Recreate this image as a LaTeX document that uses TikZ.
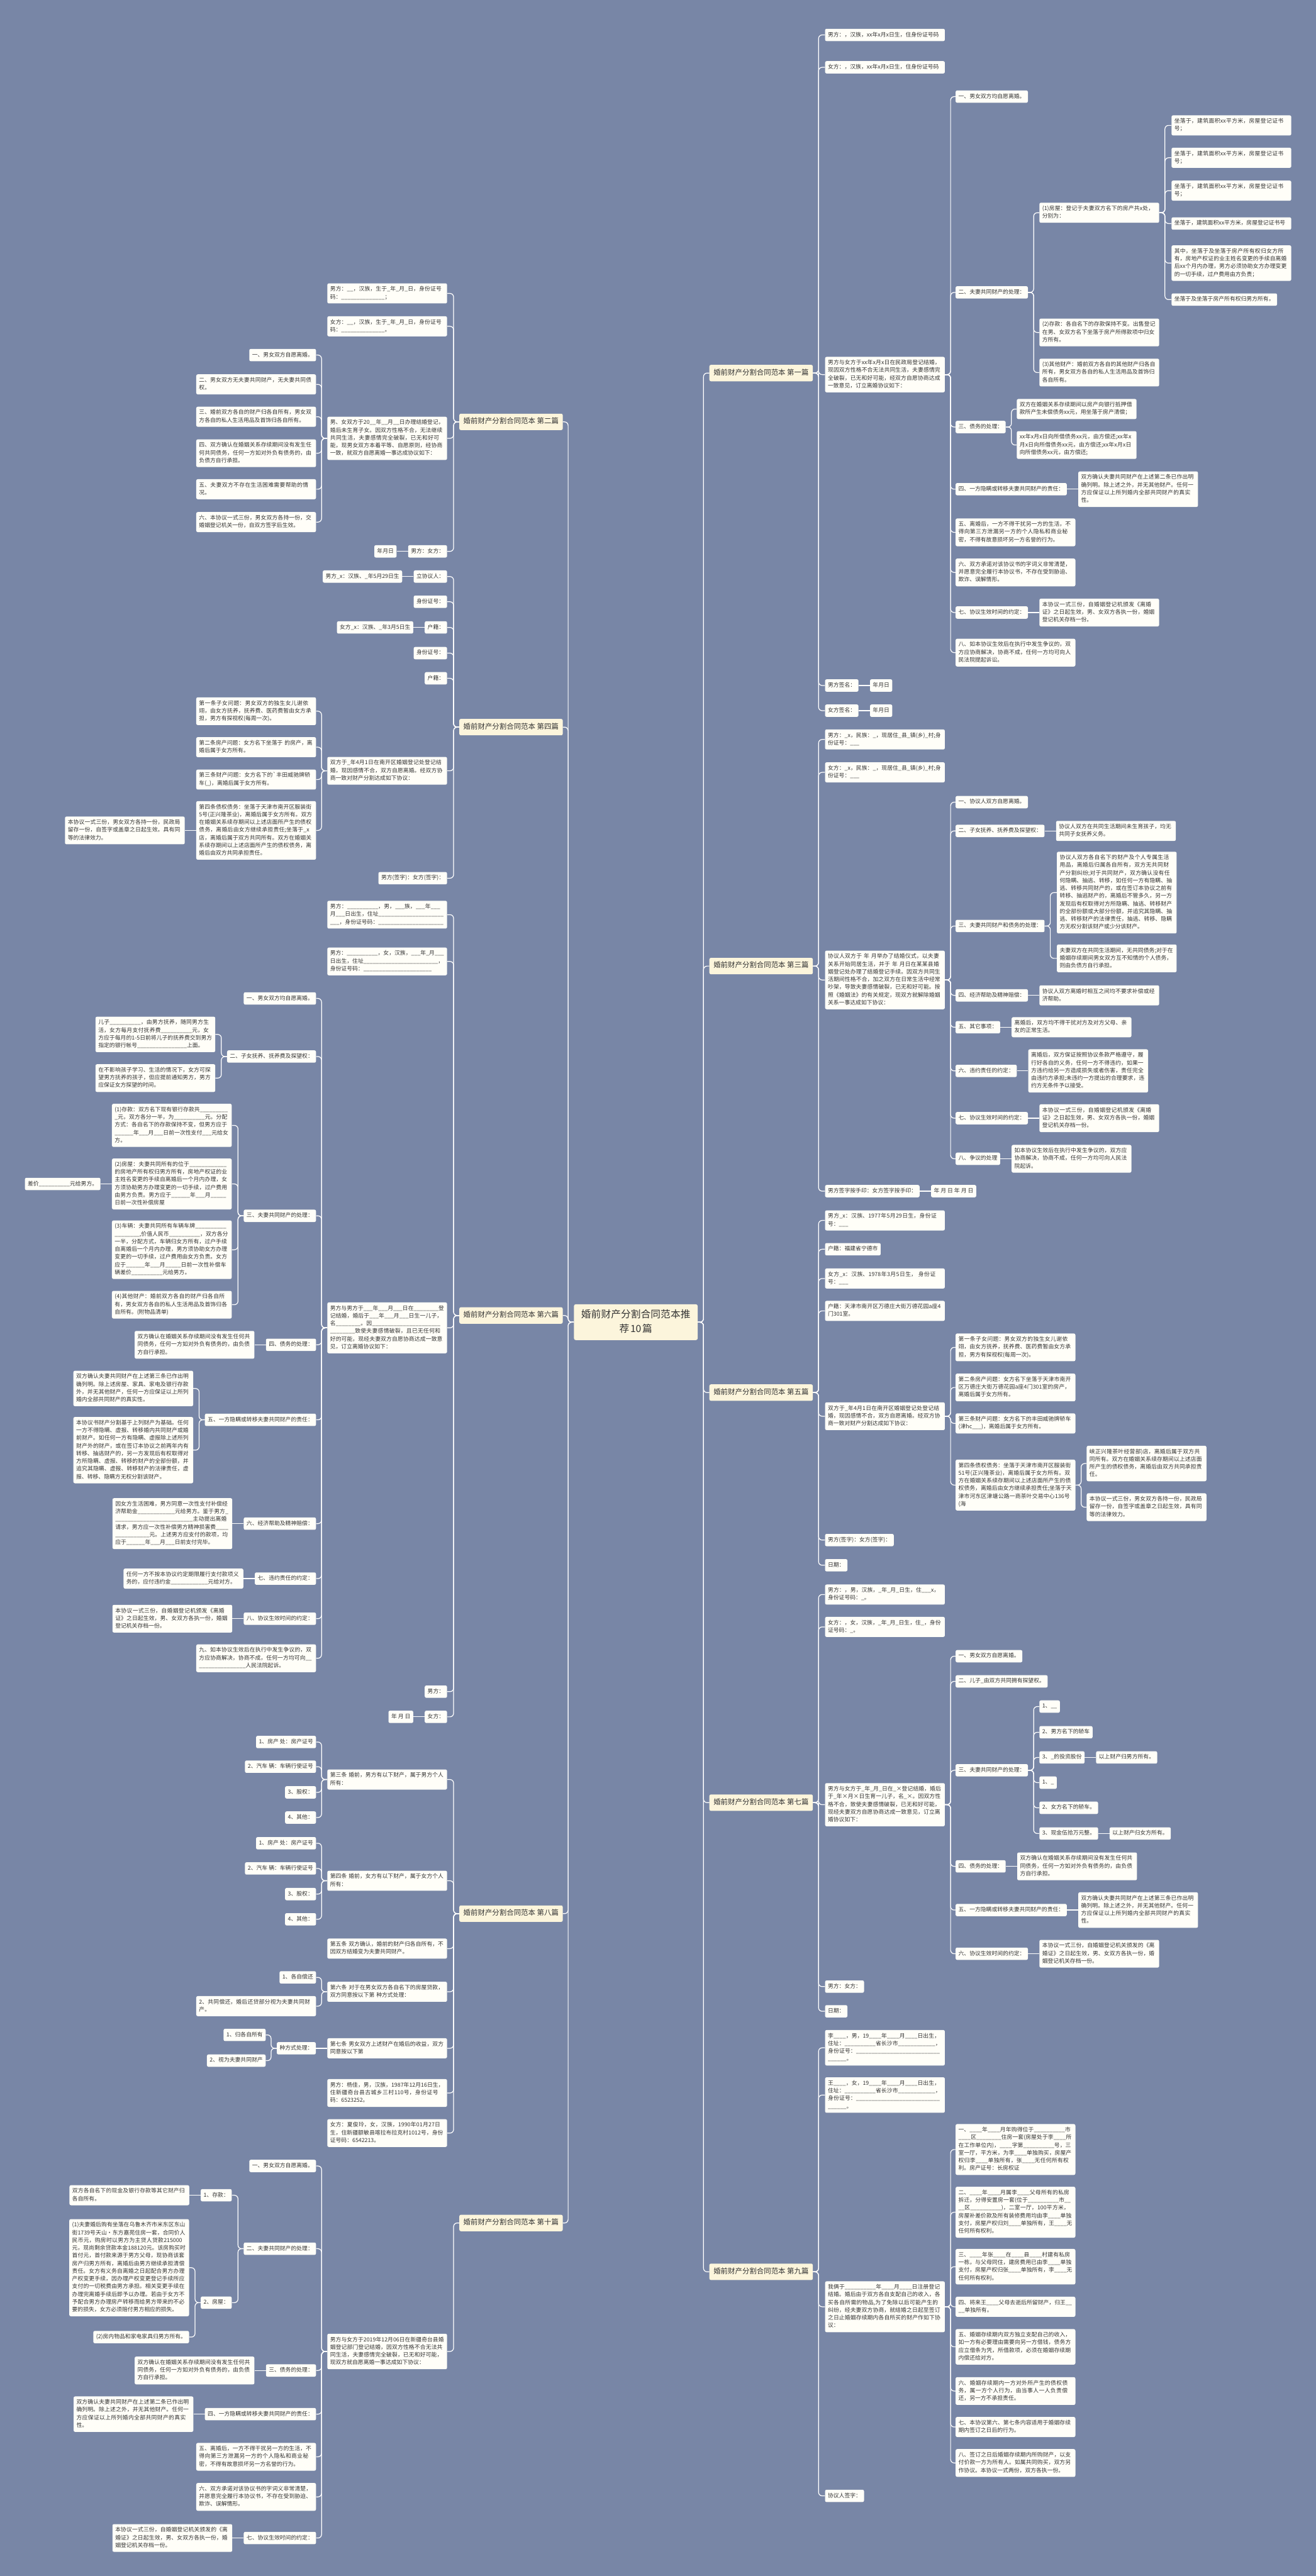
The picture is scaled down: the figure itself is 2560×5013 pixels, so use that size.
\documentclass[tikz,border=0pt]{standalone}
\usepackage{fontspec}
\newfontfamily\cjk{Noto Sans CJK SC}
\usepackage{tikz}
\usetikzlibrary{positioning}
\XeTeXlinebreaklocale "zh"
\XeTeXlinebreakskip = 0pt plus 1pt
\setlength{\parindent}{0pt}
\definecolor{bgcol}{HTML}{7886A6}
\definecolor{cardcol}{HTML}{FFFEF8}
\definecolor{tagcol}{HTML}{FCF5DC}
\definecolor{inkcol}{HTML}{333333}
\newcommand{\leaffont}{\cjk\fontsize{10.8}{15}\selectfont}
\newcommand{\branchfont}{\cjk\fontsize{14}{17}\selectfont}
\newcommand{\hubfont}{\cjk\fontsize{19.2}{28}\selectfont}
\tikzset{
  card/.style={fill=cardcol, text=inkcol, rounded corners=3pt, inner xsep=5.5pt, inner ysep=4.5pt,
    font=\leaffont, align=left, execute at begin node=\strut, execute at end node=\strut},
  wide/.style={card, text width=222pt},
  tag/.style={fill=tagcol, text=inkcol, rounded corners=3pt, inner xsep=8pt, inner ysep=8.5pt,
    font=\branchfont, text height=11pt, text depth=4pt},
  hub/.style={fill=tagcol, text=inkcol, rounded corners=4pt, inner xsep=9.5pt, inner ysep=7pt,
    font=\hubfont, text width=222pt, align=center, execute at begin node=\strut, execute at end node=\strut},
  link/.style={draw=white, line width=1.5pt, rounded corners=7pt},
  elbr/.style={to path={-- ++(11pt,0pt) |- (\tikztotarget)}},
  elbl/.style={to path={-- ++(-11pt,0pt) |- (\tikztotarget)}}
}
\begin{document}
\catcode`\_=\active
\def_{\char95\penalty0\relax}
\begin{tikzpicture}[x=1pt,y=-1pt]
\useasboundingbox (0,0) rectangle (2560,5013);
\fill [bgcol] (0,0) rectangle (2560,5013);

\node [hub] (root) at (1237,2573) {婚前财产分割合同范本推\\荐10篇};
\node [tag, anchor=west] (s1) at (1380,726) {婚前财产分割合同范本 第一篇};
\node [tag, anchor=west] (s3) at (1380,1880) {婚前财产分割合同范本 第三篇};
\node [tag, anchor=west] (s5) at (1380,2710) {婚前财产分割合同范本 第五篇};
\node [tag, anchor=west] (s7) at (1380,3508) {婚前财产分割合同范本 第七篇};
\node [tag, anchor=west] (s9) at (1380,4421) {婚前财产分割合同范本 第九篇};
\node [tag, anchor=east] (s2) at (1095,821) {婚前财产分割合同范本 第二篇};
\node [tag, anchor=east] (s4) at (1095,1415) {婚前财产分割合同范本 第四篇};
\node [tag, anchor=east] (s6) at (1095,2560) {婚前财产分割合同范本 第六篇};
\node [tag, anchor=east] (s8) at (1095,3724) {婚前财产分割合同范本 第八篇};
\node [tag, anchor=east] (s10) at (1095,4326) {婚前财产分割合同范本 第十篇};
\draw [link] (root.east) to [elbr] (s1.west);
\draw [link] (root.east) to [elbr] (s3.west);
\draw [link] (root.east) to [elbr] (s5.west);
\draw [link] (root.east) to [elbr] (s7.west);
\draw [link] (root.east) to [elbr] (s9.west);
\draw [link] (root.west) to [elbl] (s2.east);
\draw [link] (root.west) to [elbl] (s4.east);
\draw [link] (root.west) to [elbl] (s6.east);
\draw [link] (root.west) to [elbl] (s8.east);
\draw [link] (root.west) to [elbl] (s10.east);

\node [wide, anchor=west] (s1-1) at (1605,68) {男方：，汉族，xx年x月x日生，住身份证号码};
\node [wide, anchor=west] (s1-2) at (1605,131) {女方：，汉族，xx年x月x日生，住身份证号码};
\node [wide, anchor=west] (s1-3) at (1605,729) {男方与女方于xx年x月x日在民政局登记结婚，现因双方性格不合无法共同生活，夫妻感情完全破裂，已无和好可能，经双方自愿协商达成一致意见，订立离婚协议如下：};
\node [card, anchor=west] (s1-4) at (1605,1334) {男方签名：};
\node [card, right=22pt of s1-4] (s1-4-1) {年月日};
\node [card, anchor=west] (s1-5) at (1605,1383) {女方签名：};
\node [card, right=22pt of s1-5] (s1-5-1) {年月日};
\node [card, anchor=west] (s1-3-1) at (1859,188) {一、男女双方均自愿离婚。};
\node [card, anchor=west] (s1-3-2) at (1859,569) {二、夫妻共同财产的处理：};
\node [card, anchor=west] (s1-3-3) at (1859,831) {三、债务的处理：};
\node [card, anchor=west] (s1-3-4) at (1859,952) {四、一方隐瞒或转移夫妻共同财产的责任：};
\node [wide, anchor=west] (s1-3-5) at (1859,1036) {五、离婚后，一方不得干扰另一方的生活，不得向第三方泄漏另一方的个人隐私和商业秘密，不得有故意损坏另一方名誉的行为。};
\node [wide, anchor=west] (s1-3-6) at (1859,1114) {六、双方承诺对该协议书的字词义非常清楚，并愿意完全履行本协议书，不存在受到胁迫、欺诈、误解情形。};
\node [card, anchor=west] (s1-3-7) at (1859,1192) {七、协议生效时间的约定：};
\node [wide, anchor=west] (s1-3-8) at (1859,1270) {八、如本协议生效后在执行中发生争议的，双方应协商解决，协商不成，任何一方均可向人民法院提起诉讼。};
\node [wide, anchor=west] (s1-3-2-1) at (2022,414) {(1)房屋：登记于夫妻双方名下的房产共x处，分别为：};
\node [wide, anchor=west] (s1-3-2-2) at (2022,647) {(2)存款：各自名下的存款保持不变。出售登记在男、女双方名下坐落于房产所得款项中归女方所有。};
\node [wide, anchor=west] (s1-3-2-3) at (2022,725) {(3)其他财产：婚前双方各自的其他财产归各自所有，男女双方各自的私人生活用品及首饰归各自所有。};
\node [wide, anchor=west] (s1-3-2-1-1) at (2279,244) {坐落于，建筑面积xx平方米，房屋登记证书号；};
\node [wide, anchor=west] (s1-3-2-1-2) at (2279,307) {坐落于，建筑面积xx平方米，房屋登记证书号；};
\node [wide, anchor=west] (s1-3-2-1-3) at (2279,371) {坐落于，建筑面积xx平方米，房屋登记证书号；};
\node [wide, anchor=west] (s1-3-2-1-4) at (2279,435) {坐落于，建筑面积xx平方米，房屋登记证书号};
\node [wide, anchor=west] (s1-3-2-1-5) at (2279,512) {其中，坐落于及坐落于房产所有权归女方所有，房地产权证的业主姓名变更的手续自离婚后xx个月内办理，男方必须协助女方办理变更的一切手续，过户费用由方负责；};
\node [card, anchor=west] (s1-3-2-1-6) at (2279,583) {坐落于及坐落于房产所有权归男方所有。};
\node [wide, anchor=west] (s1-3-3-1) at (1978,796) {双方在婚姻关系存续期间以房产向银行抵押借款所产生未偿债务xx元，用坐落于房产清偿；};
\node [wide, anchor=west] (s1-3-3-2) at (1978,866) {xx年x月x日向所借债务xx元，由方偿还;xx年x月x日向所借债务xx元，由方偿还;xx年x月x日向所借债务xx元，由方偿还;};
\node [wide, right=22pt of s1-3-4] (s1-3-4-1) {双方确认夫妻共同财产在上述第二条已作出明确列明。除上述之外，并无其他财产。任何一方应保证以上所列婚内全部共同财产的真实性。};
\node [wide, right=22pt of s1-3-7] (s1-3-7-1) {本协议一式三份，自婚姻登记机颁发《离婚证》之日起生效，男、女双方各执一份，婚姻登记机关存档一份。};
\draw [link] (s1.east) to [elbr] (s1-1.west);
\draw [link] (s1.east) to [elbr] (s1-2.west);
\draw [link] (s1.east) to [elbr] (s1-3.west);
\draw [link] (s1.east) to [elbr] (s1-4.west);
\draw [link] (s1.east) to [elbr] (s1-5.west);
\draw [link] (s1-4.east) -- (s1-4-1.west);
\draw [link] (s1-5.east) -- (s1-5-1.west);
\draw [link] (s1-3.east) to [elbr] (s1-3-1.west);
\draw [link] (s1-3.east) to [elbr] (s1-3-2.west);
\draw [link] (s1-3.east) to [elbr] (s1-3-3.west);
\draw [link] (s1-3.east) to [elbr] (s1-3-4.west);
\draw [link] (s1-3.east) to [elbr] (s1-3-5.west);
\draw [link] (s1-3.east) to [elbr] (s1-3-6.west);
\draw [link] (s1-3.east) to [elbr] (s1-3-7.west);
\draw [link] (s1-3.east) to [elbr] (s1-3-8.west);
\draw [link] (s1-3-2.east) to [elbr] (s1-3-2-1.west);
\draw [link] (s1-3-2.east) to [elbr] (s1-3-2-2.west);
\draw [link] (s1-3-2.east) to [elbr] (s1-3-2-3.west);
\draw [link] (s1-3-2-1.east) to [elbr] (s1-3-2-1-1.west);
\draw [link] (s1-3-2-1.east) to [elbr] (s1-3-2-1-2.west);
\draw [link] (s1-3-2-1.east) to [elbr] (s1-3-2-1-3.west);
\draw [link] (s1-3-2-1.east) to [elbr] (s1-3-2-1-4.west);
\draw [link] (s1-3-2-1.east) to [elbr] (s1-3-2-1-5.west);
\draw [link] (s1-3-2-1.east) to [elbr] (s1-3-2-1-6.west);
\draw [link] (s1-3-3.east) to [elbr] (s1-3-3-1.west);
\draw [link] (s1-3-3.east) to [elbr] (s1-3-3-2.west);
\draw [link] (s1-3-4.east) -- (s1-3-4-1.west);
\draw [link] (s1-3-7.east) -- (s1-3-7-1.west);

\node [wide, anchor=west] (s3-1) at (1605,1439) {男方：_x，民族：_，现居住_县_镇(乡)_村;身份证号：___};
\node [wide, anchor=west] (s3-2) at (1605,1503) {女方：_x，民族：_，现居住_县_镇(乡)_村;身份证号：___};
\node [wide, anchor=west] (s3-3) at (1605,1907) {协议人双方于 年 月举办了结婚仪式，以夫妻关系开始同居生活，并于 年 月日在某某县婚姻登记处办理了结婚登记手续。因双方共同生活期间性格不合，加之双方在日常生活中经常吵架，导致夫妻感情破裂，已无和好可能。按照《婚姻法》的有关规定，现双方就解除婚姻关系一事达成如下协议：};
\node [card, anchor=west] (s3-4) at (1605,2318) {男方签字按手印：女方签字按手印：};
\node [card, right=22pt of s3-4] (s3-4-1) {年 月 日 年 月 日};
\node [card, anchor=west] (s3-3-1) at (1859,1561) {一、协议人双方自愿离婚。};
\node [card, anchor=west] (s3-3-2) at (1859,1617) {二、子女抚养、抚养费及探望权：};
\node [card, anchor=west] (s3-3-3) at (1859,1802) {三、夫妻共同财产和债务的处理：};
\node [card, anchor=west] (s3-3-4) at (1859,1937) {四、经济帮助及精神赔偿：};
\node [card, anchor=west] (s3-3-5) at (1859,1999) {五、其它事项：};
\node [card, anchor=west] (s3-3-6) at (1859,2084) {六、违约责任的约定：};
\node [card, anchor=west] (s3-3-7) at (1859,2176) {七、协议生效时间的约定：};
\node [card, anchor=west] (s3-3-8) at (1859,2255) {八、争议的处理};
\node [wide, right=22pt of s3-3-2] (s3-3-2-1) {协议人双方在共同生活期间未生育孩子，均无共同子女抚养义务。};
\node [wide, anchor=west] (s3-3-3-1) at (2056,1737) {协议人双方各自名下的财产及个人专属生活用品，离婚后归属各自所有，双方无共同财产分割纠纷;对于共同财产，双方确认没有任何隐瞒、抽逃、转移，如任何一方有隐瞒、抽逃、转移共同财产的，或在签订本协议之前有转移、抽逃财产的，离婚后不管多久，另一方发现后有权取得对方所隐瞒、抽逃、转移财产的全部份额或大部分份额，并追究其隐瞒、抽逃、转移财产的法律责任，抽逃、转移、隐瞒方无权分割该财产或少分该财产。};
\node [wide, anchor=west] (s3-3-3-2) at (2056,1865) {夫妻双方在共同生活期间，无共同债务;对于在婚姻存续期间男女双方互不知情的个人债务，则由负债方自行承担。};
\node [wide, right=22pt of s3-3-4] (s3-3-4-1) {协议人双方离婚时相互之间均不要求补偿或经济帮助。};
\node [wide, right=22pt of s3-3-5] (s3-3-5-1) {离婚后，双方均不得干扰对方及对方父母、亲友的正常生活。};
\node [wide, right=22pt of s3-3-6] (s3-3-6-1) {离婚后，双方保证按照协议条款严格遵守，履行好各自的义务，任何一方不得违约，如果一方违约给另一方造成损失或者伤害，责任完全由违约方承担;未违约一方提出的合理要求，违约方无条件予以接受。};
\node [wide, right=22pt of s3-3-7] (s3-3-7-1) {本协议一式三份，自婚姻登记机颁发《离婚证》之日起生效，男、女双方各执一份，婚姻登记机关存档一份。};
\node [wide, right=22pt of s3-3-8] (s3-3-8-1) {如本协议生效后在执行中发生争议的，双方应协商解决，协商不成，任何一方均可向人民法院起诉。};
\draw [link] (s3.east) to [elbr] (s3-1.west);
\draw [link] (s3.east) to [elbr] (s3-2.west);
\draw [link] (s3.east) to [elbr] (s3-3.west);
\draw [link] (s3.east) to [elbr] (s3-4.west);
\draw [link] (s3-4.east) -- (s3-4-1.west);
\draw [link] (s3-3.east) to [elbr] (s3-3-1.west);
\draw [link] (s3-3.east) to [elbr] (s3-3-2.west);
\draw [link] (s3-3.east) to [elbr] (s3-3-3.west);
\draw [link] (s3-3.east) to [elbr] (s3-3-4.west);
\draw [link] (s3-3.east) to [elbr] (s3-3-5.west);
\draw [link] (s3-3.east) to [elbr] (s3-3-6.west);
\draw [link] (s3-3.east) to [elbr] (s3-3-7.west);
\draw [link] (s3-3.east) to [elbr] (s3-3-8.west);
\draw [link] (s3-3-2.east) -- (s3-3-2-1.west);
\draw [link] (s3-3-3.east) to [elbr] (s3-3-3-1.west);
\draw [link] (s3-3-3.east) to [elbr] (s3-3-3-2.west);
\draw [link] (s3-3-4.east) -- (s3-3-4-1.west);
\draw [link] (s3-3-5.east) -- (s3-3-5-1.west);
\draw [link] (s3-3-6.east) -- (s3-3-6-1.west);
\draw [link] (s3-3-7.east) -- (s3-3-7-1.west);
\draw [link] (s3-3-8.east) -- (s3-3-8-1.west);

\node [wide, anchor=west] (s5-1) at (1605,2375) {男方_x：汉族、1977年5月29日生，身份证号：___};
\node [card, anchor=west] (s5-2) at (1605,2431) {户籍：福建省宁德市};
\node [wide, anchor=west] (s5-3) at (1605,2488) {女方_x：汉族、1978年3月5日生， 身份证号：___};
\node [wide, anchor=west] (s5-4) at (1605,2551) {户籍：天津市南开区万德庄大街万德花园a座4门301室。};
\node [wide, anchor=west] (s5-5) at (1605,2756) {双方于_年4月1日在南开区婚姻登记处登记结婚，现因感情不合，双方自愿离婚。经双方协商一致对财产分割达成如下协议：};
\node [card, anchor=west] (s5-6) at (1605,2997) {男方(签字)：女方(签字)：};
\node [card, anchor=west] (s5-7) at (1605,3046) {日期：};
\node [wide, anchor=west] (s5-5-1) at (1859,2622) {第一条子女问题：男女双方的独生女儿谢依翊，由女方抚养，抚养费、医药费暂由女方承担，男方有探视权(每周一次)。};
\node [wide, anchor=west] (s5-5-2) at (1859,2700) {第二条房产问题：女方名下坐落于天津市南开区万德庄大街万德花园a座4门301室的房产，离婚后属于女方所有。};
\node [wide, anchor=west] (s5-5-3) at (1859,2770) {第三条财产问题：女方名下的丰田威驰牌轿车(津hc___)，离婚后属于女方所有。};
\node [wide, anchor=west] (s5-5-4) at (1859,2890) {第四条债权债务：坐落于天津市南开区服装街51号(正兴隆茶业)，离婚后属于女方所有。双方在婚姻关系续存期间以上述店面所产生的债权债务，离婚后由女方继续承担责任;坐落于天津市河东区津塘公路一商茶叶交易中心136号(海};
\node [wide, anchor=west] (s5-5-4-1) at (2114,2848) {峡正兴隆茶叶经营部)店，离婚后属于双方共同所有。双方在婚姻关系续存期间以上述店面所产生的债权债务，离婚后由双方共同承担责任。};
\node [wide, anchor=west] (s5-5-4-2) at (2114,2933) {本协议一式三份，男女双方各持一份，民政局留存一份，自签字或盖章之日起生效，具有同等的法律效力。};
\draw [link] (s5.east) to [elbr] (s5-1.west);
\draw [link] (s5.east) to [elbr] (s5-2.west);
\draw [link] (s5.east) to [elbr] (s5-3.west);
\draw [link] (s5.east) to [elbr] (s5-4.west);
\draw [link] (s5.east) to [elbr] (s5-5.west);
\draw [link] (s5.east) to [elbr] (s5-6.west);
\draw [link] (s5.east) to [elbr] (s5-7.west);
\draw [link] (s5-5.east) to [elbr] (s5-5-1.west);
\draw [link] (s5-5.east) to [elbr] (s5-5-2.west);
\draw [link] (s5-5.east) to [elbr] (s5-5-3.west);
\draw [link] (s5-5.east) to [elbr] (s5-5-4.west);
\draw [link] (s5-5-4.east) to [elbr] (s5-5-4-1.west);
\draw [link] (s5-5-4.east) to [elbr] (s5-5-4-2.west);

\node [wide, anchor=west] (s7-1) at (1605,3103) {男方：，男，汉族，_年_月_日生，住___x，身份证号码：_。};
\node [wide, anchor=west] (s7-2) at (1605,3166) {女方：，女，汉族，_年_月_日生，住_，身份证号码：_。};
\node [wide, anchor=west] (s7-3) at (1605,3512) {男方与女方于_年_月_日在_×登记结婚，婚后于_年×月×日生育一儿子，名_×。因双方性格不合，致使夫妻感情破裂，已无和好可能，现经夫妻双方自愿协商达成一致意见，订立离婚协议如下：};
\node [card, anchor=west] (s7-4) at (1605,3866) {男方：女方：};
\node [card, anchor=west] (s7-5) at (1605,3914) {日期：};
\node [card, anchor=west] (s7-3-1) at (1859,3223) {一、男女双方自愿离婚。};
\node [card, anchor=west] (s7-3-2) at (1859,3272) {二、儿子_由双方共同拥有探望权。};
\node [card, anchor=west] (s7-3-3) at (1859,3445) {三、夫妻共同财产的处理：};
\node [card, anchor=west] (s7-3-4) at (1859,3632) {四、债务的处理：};
\node [card, anchor=west] (s7-3-5) at (1859,3717) {五、一方隐瞒或转移夫妻共同财产的责任：};
\node [card, anchor=west] (s7-3-6) at (1859,3802) {六、协议生效时间的约定：};
\node [card, anchor=west] (s7-3-3-1) at (2022,3321) {1、__};
\node [card, anchor=west] (s7-3-3-2) at (2022,3371) {2、男方名下的轿车};
\node [card, anchor=west] (s7-3-3-3) at (2022,3420) {3、_的投资股份};
\node [card, anchor=west] (s7-3-3-4) at (2022,3469) {1、_};
\node [card, anchor=west] (s7-3-3-5) at (2022,3518) {2、女方名下的轿车。};
\node [card, anchor=west] (s7-3-3-6) at (2022,3568) {3、现金伍拾万元整。};
\node [card, right=22pt of s7-3-3-3] (s7-3-3-3-1) {以上财产归男方所有。};
\node [card, right=22pt of s7-3-3-6] (s7-3-3-6-1) {以上财产归女方所有。};
\node [wide, right=22pt of s7-3-4] (s7-3-4-1) {双方确认在婚姻关系存续期间没有发生任何共同债务，任何一方如对外负有债务的，由负债方自行承担。};
\node [wide, right=22pt of s7-3-5] (s7-3-5-1) {双方确认夫妻共同财产在上述第三条已作出明确列明。除上述之外，并无其他财产。任何一方应保证以上所列婚内全部共同财产的真实性。};
\node [wide, right=22pt of s7-3-6] (s7-3-6-1) {本协议一式三份，自婚姻登记机关颁发的《离婚证》之日起生效，男、女双方各执一份，婚姻登记机关存档一份。};
\draw [link] (s7.east) to [elbr] (s7-1.west);
\draw [link] (s7.east) to [elbr] (s7-2.west);
\draw [link] (s7.east) to [elbr] (s7-3.west);
\draw [link] (s7.east) to [elbr] (s7-4.west);
\draw [link] (s7.east) to [elbr] (s7-5.west);
\draw [link] (s7-3.east) to [elbr] (s7-3-1.west);
\draw [link] (s7-3.east) to [elbr] (s7-3-2.west);
\draw [link] (s7-3.east) to [elbr] (s7-3-3.west);
\draw [link] (s7-3.east) to [elbr] (s7-3-4.west);
\draw [link] (s7-3.east) to [elbr] (s7-3-5.west);
\draw [link] (s7-3.east) to [elbr] (s7-3-6.west);
\draw [link] (s7-3-3.east) to [elbr] (s7-3-3-1.west);
\draw [link] (s7-3-3.east) to [elbr] (s7-3-3-2.west);
\draw [link] (s7-3-3.east) to [elbr] (s7-3-3-3.west);
\draw [link] (s7-3-3.east) to [elbr] (s7-3-3-4.west);
\draw [link] (s7-3-3.east) to [elbr] (s7-3-3-5.west);
\draw [link] (s7-3-3.east) to [elbr] (s7-3-3-6.west);
\draw [link] (s7-3-3-3.east) -- (s7-3-3-3-1.west);
\draw [link] (s7-3-3-6.east) -- (s7-3-3-6-1.west);
\draw [link] (s7-3-4.east) -- (s7-3-4-1.west);
\draw [link] (s7-3-5.east) -- (s7-3-5-1.west);
\draw [link] (s7-3-6.east) -- (s7-3-6-1.west);

\node [wide, anchor=west] (s9-1) at (1605,3985) {李____，男，19____年____月____日出生，住址：__________省长沙市____________，身份证号：_________________________________。};
\node [wide, anchor=west] (s9-2) at (1605,4077) {王____，女，19____年____月____日出生，住址：__________省长沙市____________，身份证号：_________________________________。};
\node [wide, anchor=west] (s9-3) at (1605,4489) {我俩于__________年____月____日注册登记结婚。婚后由于双方各自支配自己的收入，各买各自所需的物品,为了免除以后可能产生的纠纷，经夫妻双方协商，就结婚之日起至签订之日止婚姻存续期内各自所买的财产作如下协议：};
\node [card, anchor=west] (s9-4) at (1605,4857) {协议人签字：};
\node [wide, anchor=west] (s9-3-1) at (1859,4183) {一、____年____月年购得位于__________市____区________住房一套(房屋处于李____所在工作单位内)，____字第__________号，三室一厅，平方米，为李____单独购买，房屋产权归李____单独所有，张____无任何所有权利。房产证号：长房权证};
\node [wide, anchor=west] (s9-3-2) at (1859,4305) {二、____年____月属李____父母所有的私房拆迁，分得安置房一套(位于__________市____区__________)，二室一厅，100平方米，房屋补差价款及所有装修费用均由李____单独支付，房屋产权归刘____单独所有，王____无任何所有权利。};
\node [wide, anchor=west] (s9-3-3) at (1859,4411) {三、____年张____在____县____村建有私房一栋，与父母同住，建房费用已由李____单独支付，房屋产权归张____单独所有，李____无任何所有权利。};
\node [wide, anchor=west] (s9-3-4) at (1859,4489) {四、将来王____父母去逝后所留财产，归王____单独所有。};
\node [wide, anchor=west] (s9-3-5) at (1859,4567) {五、婚姻存续期内双方独立支配自己的收入，如一方有必要理由需要向另一方借钱，债务方应立借条为凭，所借款项，必须在婚姻存续期内偿还给对方。};
\node [wide, anchor=west] (s9-3-6) at (1859,4653) {六、婚姻存续期内一方对外所产生的债权债务，属一方个人行为，由当事人一人负责偿还，另一方不承担责任。};
\node [wide, anchor=west] (s9-3-7) at (1859,4723) {七、本协议第六、第七条内容适用于婚姻存续期内签订之日后的行为。};
\node [wide, anchor=west] (s9-3-8) at (1859,4793) {八、签订之日后婚姻存续期内所购财产，以支付价款一方为所有人。如属共同购买，双方另作协议。本协议一式两份，双方各执一份。};
\draw [link] (s9.east) to [elbr] (s9-1.west);
\draw [link] (s9.east) to [elbr] (s9-2.west);
\draw [link] (s9.east) to [elbr] (s9-3.west);
\draw [link] (s9.east) to [elbr] (s9-4.west);
\draw [link] (s9-3.east) to [elbr] (s9-3-1.west);
\draw [link] (s9-3.east) to [elbr] (s9-3-2.west);
\draw [link] (s9-3.east) to [elbr] (s9-3-3.west);
\draw [link] (s9-3.east) to [elbr] (s9-3-4.west);
\draw [link] (s9-3.east) to [elbr] (s9-3-5.west);
\draw [link] (s9-3.east) to [elbr] (s9-3-6.west);
\draw [link] (s9-3.east) to [elbr] (s9-3-7.west);
\draw [link] (s9-3.east) to [elbr] (s9-3-8.west);

\node [wide, anchor=east] (s2-1) at (870,571) {男方：__，汉族，生于_年_月_日，身份证号码：______________；};
\node [wide, anchor=east] (s2-2) at (870,635) {女方：__，汉族，生于_年_月_日，身份证号码：______________。};
\node [wide, anchor=east] (s2-3) at (870,853) {男、女双方于20__年__月__日办理结婚登记，婚后未生育子女。因双方性格不合，无法继续共同生活，夫妻感情完全破裂，已无和好可能，现男女双方本着平等、自愿原则，经协商一致，就双方自愿离婚一事达成协议如下：};
\node [card, anchor=east] (s2-4) at (870,1073) {男方：女方：};
\node [card, left=22pt of s2-4] (s2-4-1) {年月日};
\node [card, anchor=east] (s2-3-1) at (615,691) {一、男女双方自愿离婚。};
\node [wide, anchor=east] (s2-3-2) at (615,748) {二、男女双方无夫妻共同财产，无夫妻共同债权。};
\node [wide, anchor=east] (s2-3-3) at (615,811) {三、婚前双方各自的财产归各自所有，男女双方各自的私人生活用品及首饰归各自所有。};
\node [wide, anchor=east] (s2-3-4) at (615,882) {四、双方确认在婚姻关系存续期间没有发生任何共同债务，任何一方如对外负有债务的，由负债方自行承担。};
\node [wide, anchor=east] (s2-3-5) at (615,952) {五、夫妻双方不存在生活困难需要帮助的情况。};
\node [wide, anchor=east] (s2-3-6) at (615,1016) {六、本协议一式三份，男女双方各持一份，交婚姻登记机关一份，自双方签字后生效。};
\draw [link] (s2.west) to [elbl] (s2-1.east);
\draw [link] (s2.west) to [elbl] (s2-2.east);
\draw [link] (s2.west) to [elbl] (s2-3.east);
\draw [link] (s2.west) to [elbl] (s2-4.east);
\draw [link] (s2-4.west) -- (s2-4-1.east);
\draw [link] (s2-3.west) to [elbl] (s2-3-1.east);
\draw [link] (s2-3.west) to [elbl] (s2-3-2.east);
\draw [link] (s2-3.west) to [elbl] (s2-3-3.east);
\draw [link] (s2-3.west) to [elbl] (s2-3-4.east);
\draw [link] (s2-3.west) to [elbl] (s2-3-5.east);
\draw [link] (s2-3.west) to [elbl] (s2-3-6.east);

\node [card, anchor=east] (s4-1) at (870,1122) {立协议人：};
\node [card, left=22pt of s4-1] (s4-1-1) {男方_x：汉族、_年5月29日生};
\node [card, anchor=east] (s4-2) at (870,1171) {身份证号：};
\node [card, anchor=east] (s4-3) at (870,1221) {户籍：};
\node [card, left=22pt of s4-3] (s4-3-1) {女方_x：汉族、_年3月5日生};
\node [card, anchor=east] (s4-4) at (870,1271) {身份证号：};
\node [card, anchor=east] (s4-5) at (870,1320) {户籍：};
\node [wide, anchor=east] (s4-6) at (870,1500) {双方于_年4月1日在南开区婚姻登记处登记结婚，现因感情不合，双方自愿离婚。经双方协商一致对财产分割达成如下协议：};
\node [card, anchor=east] (s4-7) at (870,1709) {男方(签字)：女方(签字)：};
\node [wide, anchor=east] (s4-6-1) at (615,1384) {第一条子女问题：男女双方的独生女儿谢依翊，由女方抚养，抚养费、医药费暂由女方承担，男方有探视权(每周一次)。};
\node [wide, anchor=east] (s4-6-2) at (615,1454) {第二条房产问题：女方名下坐落于 的房产，离婚后属于女方所有。};
\node [wide, anchor=east] (s4-6-3) at (615,1517) {第三条财产问题：女方名下的`丰田威驰牌轿车(_)，离婚后属于女方所有。};
\node [wide, anchor=east] (s4-6-4) at (615,1616) {第四条债权债务：坐落于天津市南开区服装街5号(正兴隆茶业)，离婚后属于女方所有。双方在婚姻关系续存期间以上述店面所产生的债权债务，离婚后由女方继续承担责任;坐落于_x店，离婚后属于双方共同所有。双方在婚姻关系续存期间以上述店面所产生的债权债务，离婚后由双方共同承担责任。};
\node [wide, left=22pt of s4-6-4] (s4-6-4-1) {本协议一式三份，男女双方各持一份，民政局留存一份，自签字或盖章之日起生效。具有同等的法律效力。};
\draw [link] (s4.west) to [elbl] (s4-1.east);
\draw [link] (s4.west) to [elbl] (s4-2.east);
\draw [link] (s4.west) to [elbl] (s4-3.east);
\draw [link] (s4.west) to [elbl] (s4-4.east);
\draw [link] (s4.west) to [elbl] (s4-5.east);
\draw [link] (s4.west) to [elbl] (s4-6.east);
\draw [link] (s4.west) to [elbl] (s4-7.east);
\draw [link] (s4-1.west) -- (s4-1-1.east);
\draw [link] (s4-3.west) -- (s4-3-1.east);
\draw [link] (s4-6.west) to [elbl] (s4-6-1.east);
\draw [link] (s4-6.west) to [elbl] (s4-6-2.east);
\draw [link] (s4-6.west) to [elbl] (s4-6-3.east);
\draw [link] (s4-6.west) to [elbl] (s4-6-4.east);
\draw [link] (s4-6-4.west) -- (s4-6-4-1.east);

\node [wide, anchor=east] (s6-1) at (870,1780) {男方：__________，男，___族，___年___月___日出生，住址________________________，身份证号码：_____________________};
\node [wide, anchor=east] (s6-2) at (870,1871) {男方：__________，女，汉族，___年_月___日出生，住址________________________，身份证号码：______________________};
\node [wide, anchor=east] (s6-3) at (870,2584) {男方与男方于___年___月___日在________登记结婚，婚后于___年___月___日生一儿子，名________。因______________________________致使夫妻感情破裂，且已无任何和好的可能，现经夫妻双方自愿协商达成一致意见，订立离婚协议如下：};
\node [card, anchor=east] (s6-4) at (870,3292) {男方：};
\node [card, anchor=east] (s6-5) at (870,3341) {女方：};
\node [card, left=22pt of s6-5] (s6-5-1) {年 月 日};
\node [card, anchor=east] (s6-3-1) at (615,1943) {一、男女双方均自愿离婚。};
\node [card, anchor=east] (s6-3-2) at (615,2056) {二、子女抚养、抚养费及探望权：};
\node [card, anchor=east] (s6-3-3) at (615,2366) {三、夫妻共同财产的处理：};
\node [card, anchor=east] (s6-3-4) at (615,2617) {四、债务的处理：};
\node [card, anchor=east] (s6-3-5) at (615,2763) {五、一方隐瞒或转移夫妻共同财产的责任：};
\node [card, anchor=east] (s6-3-6) at (615,2965) {六、经济帮助及精神赔偿：};
\node [card, anchor=east] (s6-3-7) at (615,3072) {七、违约责任的约定：};
\node [card, anchor=east] (s6-3-8) at (615,3150) {八、协议生效时间的约定：};
\node [wide, anchor=east] (s6-3-9) at (615,3227) {九、如本协议生效后在执行中发生争议的，双方应协商解决，协商不成，任何一方均可向_________________人民法院起诉。};
\node [wide, anchor=east] (s6-3-2-1) at (419,2013) {儿子__________，由男方抚养，随同男方生活，女方每月支付抚养费__________元，女方应于每月的1-5日前将儿子的抚养费交到男方指定的银行帐号________________上面。};
\node [wide, anchor=east] (s6-3-2-2) at (419,2098) {在不影响孩子学习、生活的情况下，女方可探望男方抚养的孩子，但应提前通知男方，男方应保证女方探望的时间。};
\node [wide, anchor=east] (s6-3-3-1) at (451,2190) {(1)存款：双方名下现有银行存款共__________元，双方各分一半，为__________元。分配方式：各自名下的存款保持不变，但男方应于______年___月___日前一次性支付___元给女方。};
\node [wide, anchor=east] (s6-3-3-2) at (451,2304) {(2)房屋：夫妻共同所有的位于____________的房地产所有权归男方所有，房地产权证的业主姓名变更的手续自离婚后一个月内办理，女方须协助男方办理变更的一切手续，过户费用由男方负责。男方应于______年___月_____日前一次性补偿房屋};
\node [card, left=22pt of s6-3-3-2] (s6-3-3-2-1) {差价__________元给男方。};
\node [wide, anchor=east] (s6-3-3-3) at (451,2432) {(3)车辆：夫妻共同所有车辆车牌__________________,价值人民币__________，双方各分一半，分配方式，车辆归女方所有，过户手续自离婚后一个月内办理，男方须协助女方办理变更的一切手续，过户费用由女方负责。女方应于______年___月_____日前一次性补偿车辆差价__________元给男方。};
\node [wide, anchor=east] (s6-3-3-4) at (451,2539) {(4)其他财产：婚前双方各自的财产归各自所有，男女双方各自的私人生活用品及首饰归各自所有。(附物品清单)};
\node [wide, left=22pt of s6-3-4] (s6-3-4-1) {双方确认在婚姻关系存续期间没有发生任何共同债务，任何一方如对外负有债务的，由负债方自行承担。};
\node [wide, anchor=east] (s6-3-5-1) at (376,2702) {双方确认夫妻共同财产在上述第三条已作出明确列明。除上述房屋、家具、家电及银行存款外，并无其他财产，任何一方应保证以上所列婚内全部共同财产的真实性。};
\node [wide, anchor=east] (s6-3-5-2) at (376,2822) {本协议书财产分割基于上列财产为基础。任何一方不得隐瞒、虚报、转移婚内共同财产或婚前财产。如任何一方有隐瞒、虚报除上述所列财产外的财产，或在签订本协议之前两年内有转移、抽逃财产的，另一方发现后有权取得对方所隐瞒、虚报、转移的财产的全部份额，并追究其隐瞒、虚报、转移财产的法律责任，虚报、转移、隐瞒方无权分割该财产。};
\node [wide, left=22pt of s6-3-6] (s6-3-6-1) {因女方生活困难，男方同意一次性支付补偿经济帮助金____________元给男方。鉴于男方__________________________主动提出离婚请求，男方应一次性补偿男方精神损害费_______________元。上述男方应支付的款项，均应于______年___月___日前支付完毕。};
\node [wide, left=22pt of s6-3-7] (s6-3-7-1) {任何一方不按本协议约定期限履行支付款项义务的，应付违约金____________元给对方。};
\node [wide, left=22pt of s6-3-8] (s6-3-8-1) {本协议一式三份，自婚姻登记机颁发《离婚证》之日起生效，男、女双方各执一份，婚姻登记机关存档一份。};
\draw [link] (s6.west) to [elbl] (s6-1.east);
\draw [link] (s6.west) to [elbl] (s6-2.east);
\draw [link] (s6.west) to [elbl] (s6-3.east);
\draw [link] (s6.west) to [elbl] (s6-4.east);
\draw [link] (s6.west) to [elbl] (s6-5.east);
\draw [link] (s6-5.west) -- (s6-5-1.east);
\draw [link] (s6-3.west) to [elbl] (s6-3-1.east);
\draw [link] (s6-3.west) to [elbl] (s6-3-2.east);
\draw [link] (s6-3.west) to [elbl] (s6-3-3.east);
\draw [link] (s6-3.west) to [elbl] (s6-3-4.east);
\draw [link] (s6-3.west) to [elbl] (s6-3-5.east);
\draw [link] (s6-3.west) to [elbl] (s6-3-6.east);
\draw [link] (s6-3.west) to [elbl] (s6-3-7.east);
\draw [link] (s6-3.west) to [elbl] (s6-3-8.east);
\draw [link] (s6-3.west) to [elbl] (s6-3-9.east);
\draw [link] (s6-3-2.west) to [elbl] (s6-3-2-1.east);
\draw [link] (s6-3-2.west) to [elbl] (s6-3-2-2.east);
\draw [link] (s6-3-3.west) to [elbl] (s6-3-3-1.east);
\draw [link] (s6-3-3.west) to [elbl] (s6-3-3-2.east);
\draw [link] (s6-3-3.west) to [elbl] (s6-3-3-3.east);
\draw [link] (s6-3-3.west) to [elbl] (s6-3-3-4.east);
\draw [link] (s6-3-3-2.west) -- (s6-3-3-2-1.east);
\draw [link] (s6-3-4.west) -- (s6-3-4-1.east);
\draw [link] (s6-3-5.west) to [elbl] (s6-3-5-1.east);
\draw [link] (s6-3-5.west) to [elbl] (s6-3-5-2.east);
\draw [link] (s6-3-6.west) -- (s6-3-6-1.east);
\draw [link] (s6-3-7.west) -- (s6-3-7-1.east);
\draw [link] (s6-3-8.west) -- (s6-3-8-1.east);

\node [wide, anchor=east] (s8-1) at (870,3463) {第三条 婚前，男方有以下财产，属于男方个人所有：};
\node [wide, anchor=east] (s8-2) at (870,3660) {第四条 婚前，女方有以下财产，属于女方个人所有：};
\node [wide, anchor=east] (s8-3) at (870,3792) {第五条 双方确认，婚前的财产归各自所有，不因双方结婚变为夫妻共同财产。};
\node [wide, anchor=east] (s8-4) at (870,3876) {第六条 对于在男女双方各自名下的房屋贷款，双方同意按以下第 种方式处理：};
\node [wide, anchor=east] (s8-5) at (870,3986) {第七条 男女双方上述财产在婚后的收益，双方同意按以下第};
\node [wide, anchor=east] (s8-6) at (870,4073) {男方：杨佳，男，汉族，1987年12月16日生，住新疆奇台县古城乡三村110号，身份证号码：6523252。};
\node [wide, anchor=east] (s8-7) at (870,4151) {女方：夏俊玲，女，汉族，1990年01月27日生，住新疆额敏县喀拉布拉克村1012号，身份证号码：6542213。};
\node [card, anchor=east] (s8-1-1) at (615,3390) {1、房产 处：房产证号};
\node [card, anchor=east] (s8-1-2) at (615,3438) {2、汽车 辆：车辆行使证号};
\node [card, anchor=east] (s8-1-3) at (615,3488) {3、股权：};
\node [card, anchor=east] (s8-1-4) at (615,3537) {4、其他：};
\node [card, anchor=east] (s8-2-1) at (615,3587) {1、房产 处：房产证号};
\node [card, anchor=east] (s8-2-2) at (615,3636) {2、汽车 辆：车辆行使证号};
\node [card, anchor=east] (s8-2-3) at (615,3686) {3、股权：};
\node [card, anchor=east] (s8-2-4) at (615,3735) {4、其他：};
\node [card, anchor=east] (s8-4-1) at (615,3848) {1、各自偿还};
\node [wide, anchor=east] (s8-4-2) at (615,3904) {2、共同偿还，婚后还贷部分视为夫妻共同财产。};
\node [card, left=22pt of s8-5] (s8-5-1) {种方式处理：};
\node [card, anchor=east] (s8-5-1-1) at (517,3960) {1、归各自所有};
\node [card, anchor=east] (s8-5-1-2) at (517,4010) {2、视为夫妻共同财产};
\draw [link] (s8.west) to [elbl] (s8-1.east);
\draw [link] (s8.west) to [elbl] (s8-2.east);
\draw [link] (s8.west) to [elbl] (s8-3.east);
\draw [link] (s8.west) to [elbl] (s8-4.east);
\draw [link] (s8.west) to [elbl] (s8-5.east);
\draw [link] (s8.west) to [elbl] (s8-6.east);
\draw [link] (s8.west) to [elbl] (s8-7.east);
\draw [link] (s8-1.west) to [elbl] (s8-1-1.east);
\draw [link] (s8-1.west) to [elbl] (s8-1-2.east);
\draw [link] (s8-1.west) to [elbl] (s8-1-3.east);
\draw [link] (s8-1.west) to [elbl] (s8-1-4.east);
\draw [link] (s8-2.west) to [elbl] (s8-2-1.east);
\draw [link] (s8-2.west) to [elbl] (s8-2-2.east);
\draw [link] (s8-2.west) to [elbl] (s8-2-3.east);
\draw [link] (s8-2.west) to [elbl] (s8-2-4.east);
\draw [link] (s8-4.west) to [elbl] (s8-4-1.east);
\draw [link] (s8-4.west) to [elbl] (s8-4-2.east);
\draw [link] (s8-5.west) -- (s8-5-1.east);
\draw [link] (s8-5-1.west) to [elbl] (s8-5-1-1.east);
\draw [link] (s8-5-1.west) to [elbl] (s8-5-1-2.east);

\node [wide, anchor=east] (s10-1) at (870,4576) {男方与女方于2019年12月06日在新疆奇台县婚姻登记部门登记结婚，因双方性格不合无法共同生活，夫妻感情完全破裂，已无和好可能，现双方就自愿离婚一事达成如下协议：};
\node [card, anchor=east] (s10-1-1) at (615,4215) {一、男女双方自愿离婚。};
\node [card, anchor=east] (s10-1-2) at (615,4376) {二、夫妻共同财产的处理：};
\node [card, anchor=east] (s10-1-3) at (615,4613) {三、债务的处理：};
\node [card, anchor=east] (s10-1-4) at (615,4698) {四、一方隐瞒或转移夫妻共同财产的责任：};
\node [wide, anchor=east] (s10-1-5) at (615,4781) {五、离婚后，一方不得干扰另一方的生活，不得向第三方泄漏另一方的个人隐私和商业秘密，不得有故意损坏另一方名誉的行为。};
\node [wide, anchor=east] (s10-1-6) at (615,4859) {六、双方承诺对该协议书的字词义非常清楚，并愿意完全履行本协议书，不存在受到胁迫、欺诈、误解情形。};
\node [card, anchor=east] (s10-1-7) at (615,4939) {七、协议生效时间的约定：};
\node [card, anchor=east] (s10-1-2-1) at (451,4272) {1、存款：};
\node [wide, left=22pt of s10-1-2-1] (s10-1-2-1-1) {双方各自名下的现金及银行存款等其它财产归各自所有。};
\node [card, anchor=east] (s10-1-2-2) at (451,4481) {2、房屋：};
\node [wide, anchor=east] (s10-1-2-2-1) at (368,4413) {(1)夫妻婚后购有坐落在乌鲁木齐市米东区东山街1739号天山·东方嘉苑住房一套，合同价人民币元，购房时以男方为主贷人贷款215000元，现尚剩余贷款本金188120元。该房购买时首付元，首付款来源于男方父母，现协商该套房产归男方所有，离婚后由男方继续承担清偿责任。女方有义务自离婚之日起配合男方办理产权变更手续，因办理产权变更登记手续所应支付的一切税费由男方承担。相关变更手续在办理完离婚手续后即予以办理。若由于女方不予配合男方办理房产转移而给男方带来的不必要的损失，女方必须赔付男方相应的损失。};
\node [card, anchor=east] (s10-1-2-2-2) at (368,4548) {(2)房内物品和家电家具归男方所有。};
\node [wide, left=22pt of s10-1-3] (s10-1-3-1) {双方确认在婚姻关系存续期间没有发生任何共同债务，任何一方如对外负有债务的，由负债方自行承担。};
\node [wide, left=22pt of s10-1-4] (s10-1-4-1) {双方确认夫妻共同财产在上述第二条已作出明确列明。除上述之外，并无其他财产。任何一方应保证以上所列婚内全部共同财产的真实性。};
\node [wide, left=22pt of s10-1-7] (s10-1-7-1) {本协议一式三份，自婚姻登记机关颁发的《离婚证》之日起生效，男、女双方各执一份，婚姻登记机关存档一份。};
\draw [link] (s10.west) to [elbl] (s10-1.east);
\draw [link] (s10-1.west) to [elbl] (s10-1-1.east);
\draw [link] (s10-1.west) to [elbl] (s10-1-2.east);
\draw [link] (s10-1.west) to [elbl] (s10-1-3.east);
\draw [link] (s10-1.west) to [elbl] (s10-1-4.east);
\draw [link] (s10-1.west) to [elbl] (s10-1-5.east);
\draw [link] (s10-1.west) to [elbl] (s10-1-6.east);
\draw [link] (s10-1.west) to [elbl] (s10-1-7.east);
\draw [link] (s10-1-2.west) to [elbl] (s10-1-2-1.east);
\draw [link] (s10-1-2.west) to [elbl] (s10-1-2-2.east);
\draw [link] (s10-1-2-1.west) -- (s10-1-2-1-1.east);
\draw [link] (s10-1-2-2.west) to [elbl] (s10-1-2-2-1.east);
\draw [link] (s10-1-2-2.west) to [elbl] (s10-1-2-2-2.east);
\draw [link] (s10-1-3.west) -- (s10-1-3-1.east);
\draw [link] (s10-1-4.west) -- (s10-1-4-1.east);
\draw [link] (s10-1-7.west) -- (s10-1-7-1.east);
\end{tikzpicture}
\end{document}
